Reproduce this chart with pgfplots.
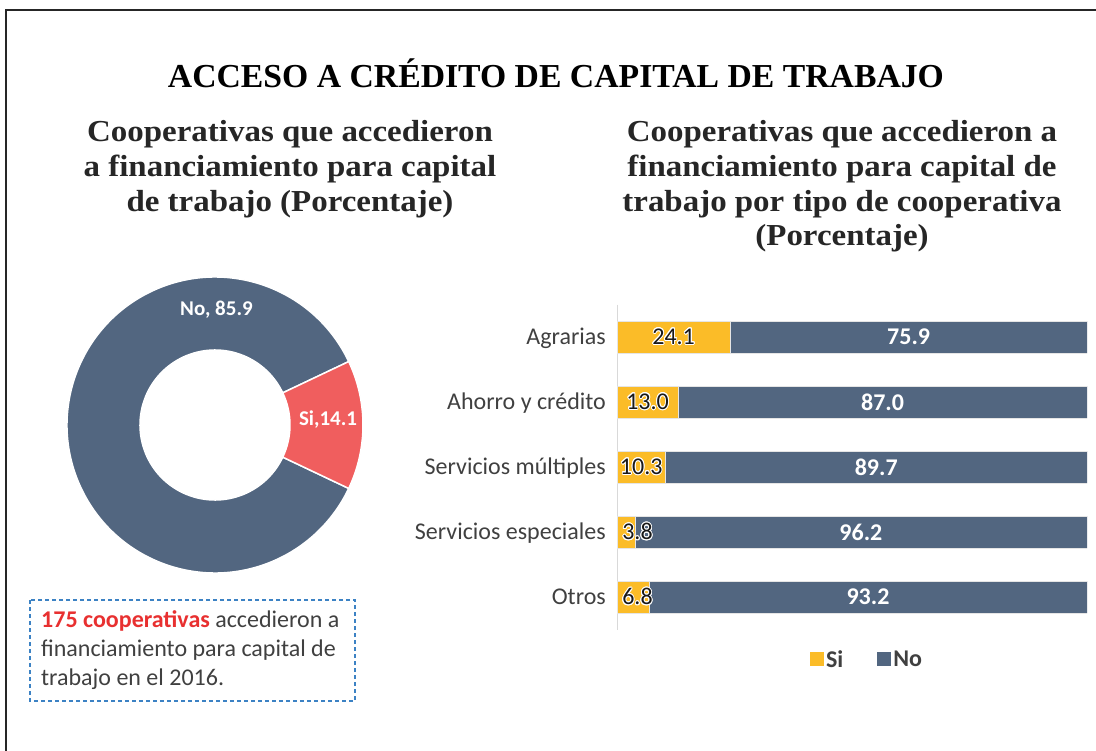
\documentclass[border=0pt]{standalone}
\usepackage{pgfplots}
\usepackage{pgfplotstable}
\pgfplotsset{compat=1.18}
\usepackage{fontspec}
\usepackage{contour}
\contourlength{0.9pt}
\setmainfont{Carlito}
\newfontfamily\titlef{Liberation Serif}
\newfontfamily\subf[FakeStretch=1.08]{Liberation Serif}
\definecolor{nocol}{RGB}{82,102,128}
\definecolor{sicol}{RGB}{240,94,94}
\definecolor{siyel}{RGB}{251,188,40}
\definecolor{txtgray}{RGB}{64,64,64}
\definecolor{frame}{RGB}{38,38,38}
\definecolor{dashblue}{RGB}{60,130,196}
\definecolor{redtxt}{RGB}{232,48,48}
\pgfplotstableread{
idx si no
0 24.1 75.9
1 13.0 87.0
2 10.3 89.7
3 3.8 96.2
4 6.8 93.2
}\bardata
\def\sival{14.1}
\def\noval{85.9}
\tikzset{subt/.style={anchor=base, inner sep=0pt, font=\fontsize{30.5}{34.7}\subf\bfseries, text=frame},
  boxt/.style={anchor=base west, inner sep=0pt, font=\fontsize{24}{29}\selectfont, text=txtgray}}
\begin{document}
\begin{tikzpicture}
\path[use as bounding box] (0pt,0pt) rectangle (1096pt,-751pt);
% frame
\draw[frame, line width=2.5pt] (6pt,-751pt) -- (6pt,-10pt) -- (1096pt,-10pt);
% title
\node[anchor=base, inner sep=0pt] at (556pt,-88pt) {\resizebox{776pt}{\height}{\fontsize{33.5}{36}\titlef\bfseries ACCESO A CRÉDITO DE CAPITAL DE TRABAJO}};
% subtitles
\node[subt] at (290pt,-142pt) {Cooperativas que accedieron};
\node[subt] at (290pt,-177pt) {a financiamiento para capital};
\node[subt] at (290pt,-211.5pt) {de trabajo (Porcentaje)};
\node[subt] at (842pt,-142pt) {Cooperativas que accedieron a};
\node[subt] at (842pt,-177pt) {financiamiento para capital de};
\node[subt] at (842pt,-211.5pt) {trabajo por tipo de cooperativa};
\node[subt] at (842pt,-246pt) {(Porcentaje)};
% donut
\begin{axis}[at={(215pt,-425pt)}, anchor=center, width=296pt, height=296pt, scale only axis,
  xmin=-1, xmax=1, ymin=-1, ymax=1, hide axis, clip=false]
\pgfmathsetmacro{\half}{\sival*1.8}
\pgfmathsetmacro{\nend}{360-\half}
\fill[nocol, draw=white, line width=1.5pt] (axis cs:0,0) ++(\half:148pt) arc[start angle=\half, end angle=\nend, radius=148pt] -- ++(\nend+180:73pt) arc[start angle=\nend, end angle=\half, radius=75pt] -- cycle;
\fill[sicol, draw=white, line width=1.5pt] (axis cs:0,0) ++(-\half:148pt) arc[start angle=-\half, end angle=\half, radius=148pt] -- ++(\half+180:73pt) arc[start angle=\half, end angle=-\half, radius=75pt] -- cycle;
\node[text=white, font=\fontsize{21}{24}\selectfont\bfseries] at (axis cs:0.01,0.776) {No, \noval};
\node[text=white, font=\fontsize{21}{24}\selectfont\bfseries] at (axis cs:0.764,0.04) {Si,\sival};
\end{axis}
% text box
\draw[dashblue, line width=1.3pt, dash pattern=on 4pt off 3pt] (30pt,-600pt) rectangle (355pt,-701pt);
\node[boxt] at (41pt,-627pt) {{\color{redtxt}\bfseries 175 cooperativas} accedieron a};
\node[boxt] at (41pt,-656pt) {financiamiento para capital de};
\node[boxt] at (41pt,-685pt) {trabajo en el 2016.};
% bar chart
\begin{axis}[at={(617pt,-629.5pt)}, anchor=south west, width=470pt, height=325pt, scale only axis,
  xbar stacked, bar width=32pt,
  xmin=0, xmax=100, ymin=-0.5, ymax=4.5, y dir=reverse,
  axis x line=none, axis y line*=left,
  y axis line style={draw=black!15, line width=1pt},
  ytick={0,1,2,3,4},
  yticklabels={Agrarias,Ahorro y crédito,Servicios múltiples,Servicios especiales,Otros},
  major tick length=0pt,
  yticklabel style={font=\fontsize{24}{26}\selectfont, text=txtgray, inner sep=0pt, anchor=mid east, xshift=-11pt, yshift=-5pt},
  /pgf/number format/.cd, fixed, zerofill, precision=1, assume math mode=true,
  /pgfplots/.cd,
  point meta=explicit,
  legend style={at={(axis description cs:0.532,-0.092)}, anchor=center, draw=none, fill=none,
    legend columns=2, font=\fontsize{24}{26}\selectfont\bfseries, text=txtgray, inner sep=0pt,
    nodes={inner sep=2.5pt},
    /tikz/every even column/.append style={column sep=31pt}},
  legend image code/.code={\fill[#1, draw=none] (0pt,-7pt) rectangle (14pt,7pt);},
]
\addplot[fill=siyel, draw=black!10, line width=0.6pt,
  visualization depends on={rawx \as \sval},
  nodes near coords={\contour{white}{\pgfmathprintnumber{\pgfplotspointmeta}}},
  every node near coord/.append style={anchor=center, xshift={max(0,20.5-\sval*2.35)*1pt}, font=\fontsize{24}{26}\selectfont, text=black!90}]
  table[x=si, y=idx, meta=si]{\bardata};
\addplot[fill=nocol, draw=black!10, line width=0.6pt,
  nodes near coords,
  every node near coord/.append style={anchor=center, font=\fontsize{24}{26}\selectfont\bfseries, text=white}]
  table[x=no, y=idx, meta=no]{\bardata};
\legend{Si,No}
\end{axis}
\end{tikzpicture}
\end{document}
